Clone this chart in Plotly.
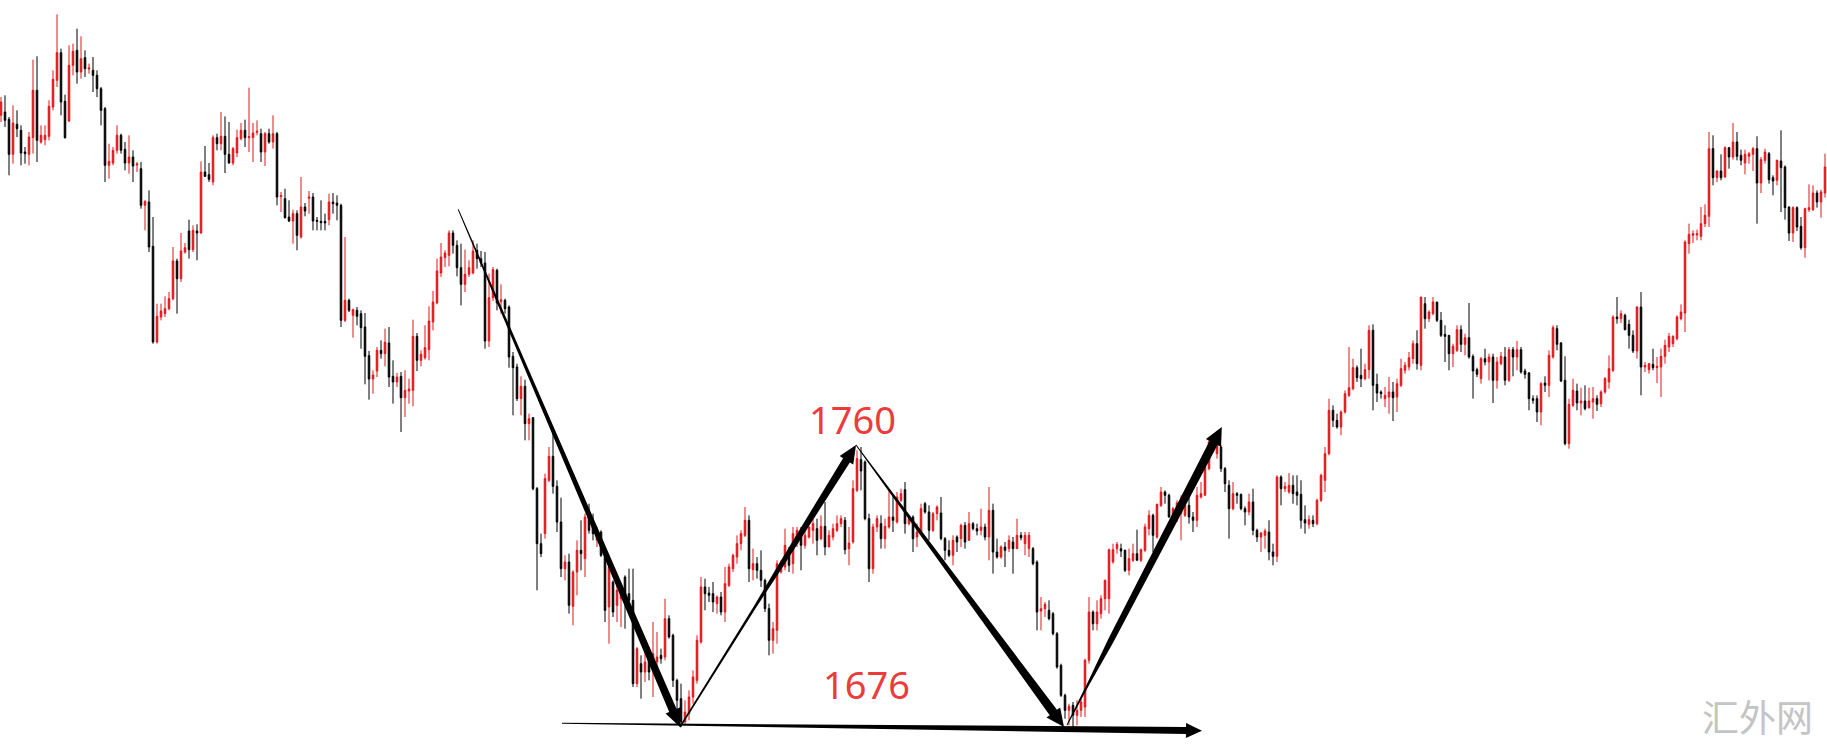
import math
import plotly.graph_objects as go

# OHLC values (price scale anchored on the 1676 / 1760 labels)
opens = [
    1859.5, 1860.5, 1858.3, 1847.8, 1856.8, 1855, 1848.5, 1847.8, 1852.8, 1867,
    1851.5, 1852.2, 1853.2, 1862, 1870, 1878.3, 1863.7, 1857.8, 1874.5, 1879,
    1872.5, 1876.8, 1873.4, 1873, 1871.5, 1867.5, 1861.5, 1844.5, 1845.2, 1849,
    1853.5, 1849.3, 1845.2, 1847, 1844.6, 1843.5, 1832.5, 1833.5, 1820.2, 1791.5,
    1799, 1800, 1801.5, 1804.5, 1815.8, 1810.5, 1818.5, 1824.8, 1819.2, 1824.8,
    1824.2, 1842.5, 1841.7, 1839.5, 1852.8, 1851, 1853.2, 1847.8, 1845.2, 1848.2,
    1852.5, 1855, 1852.8, 1852.8, 1854.4, 1854, 1848.5, 1854, 1851.5, 1854,
    1835.1, 1834.5, 1829, 1827.8, 1830, 1823, 1832, 1834.6, 1835, 1828,
    1827.7, 1827.7, 1828.2, 1833.5, 1833.2, 1832.5, 1798, 1804, 1799.5, 1801,
    1800, 1796, 1787.4, 1780.4, 1782.8, 1789, 1788, 1791.2, 1781.2, 1779.5,
    1781.2, 1774.8, 1776.8, 1777, 1793.2, 1786, 1786.8, 1789.2, 1797.5, 1803.2,
    1812.2, 1816.8, 1817.5, 1824.2, 1820.5, 1813.8, 1808.8, 1811.8, 1812.2, 1819,
    1816.5, 1815.2, 1791.8, 1804.8, 1813, 1803.6, 1804, 1802, 1787.2, 1784,
    1774.5, 1778.2, 1767, 1768.8, 1747.5, 1731, 1734, 1750, 1757.2, 1748.2,
    1737.5, 1723.5, 1725.5, 1712.2, 1722.5, 1729, 1726.5, 1739.5, 1737.5, 1732,
    1734.5, 1727, 1712, 1719.5, 1712.5, 1714.5, 1721, 1716, 1714, 1689,
    1695, 1692.5, 1698, 1693, 1695.5, 1697.5, 1697, 1708.5, 1703.5, 1690,
    1684.5, 1677.5, 1680, 1685, 1690, 1701.5, 1718, 1716.2, 1716, 1713,
    1715, 1710.5, 1718.5, 1723.5, 1727, 1731, 1733.5, 1738, 1723.2, 1725,
    1723, 1720, 1711.5, 1702, 1705, 1722.5, 1724, 1728.5, 1725, 1731,
    1733.5, 1730.5, 1733, 1735, 1735.5, 1732.5, 1736.2, 1730, 1733, 1735,
    1737, 1738, 1729.5, 1731.5, 1747, 1756.2, 1755.5, 1738.5, 1723.5, 1736,
    1737, 1732.5, 1736, 1739, 1737.5, 1744, 1747.2, 1737, 1739, 1733,
    1734.5, 1743, 1740.5, 1735, 1740, 1740.2, 1732.5, 1729, 1727.5, 1733,
    1732.5, 1736.5, 1732, 1737, 1735.5, 1735, 1736, 1733, 1741, 1728.5,
    1727, 1730, 1729.5, 1731.5, 1729.5, 1733.5, 1731, 1729.5, 1729.5, 1725.5,
    1710.8, 1711.5, 1711, 1710, 1704, 1694.5, 1685.5, 1681, 1682.5, 1679.5,
    1681, 1682, 1696, 1710.5, 1707, 1710, 1714.5, 1714.5, 1725.5, 1729.5,
    1729.5, 1729, 1723, 1726, 1728, 1726, 1729, 1735.5, 1739.5, 1733,
    1742.5, 1746.5, 1745.5, 1739, 1740.5, 1740, 1739.5, 1742.5, 1739, 1738,
    1745, 1745.5, 1753.5, 1759, 1758, 1760, 1753.5, 1748.5, 1741.5, 1746,
    1745.8, 1741.5, 1740.5, 1743.5, 1735, 1733, 1733.5, 1734.5, 1728.5, 1727.2,
    1751, 1747.5, 1746.5, 1748.5, 1746.5, 1745.8, 1738.2, 1736.8, 1738, 1737,
    1744, 1750, 1758, 1771, 1768, 1766, 1770.5, 1775.5, 1777.5, 1783.8,
    1781.5, 1780.5, 1783.2, 1795, 1778.8, 1776.5, 1774.5, 1775, 1776.5, 1775,
    1778.5, 1783, 1784, 1786.5, 1791, 1784.5, 1803, 1798.5, 1800, 1803.5,
    1798, 1793.8, 1793.5, 1788, 1789, 1795.2, 1790.8, 1792.8, 1787.2, 1783.2,
    1780.5, 1786.5, 1785.5, 1787, 1780, 1785, 1787, 1780, 1789.2, 1787,
    1789.2, 1782.8, 1782.2, 1774.5, 1774.5, 1770.5, 1779.2, 1778.5, 1787, 1795.5,
    1791.2, 1780, 1761, 1772.5, 1776.8, 1773.2, 1773.8, 1771.8, 1773.5, 1774.5,
    1773, 1776.5, 1779.5, 1783, 1799, 1798.5, 1799.5, 1796.8, 1793.5, 1788.8,
    1802, 1784, 1783.2, 1784.8, 1783.8, 1784, 1787.2, 1790, 1791, 1792.5,
    1798.5, 1800.2, 1821, 1823.5, 1823.6, 1823.2, 1827, 1829.2, 1849.5, 1840.8,
    1842.8, 1841, 1849.8, 1847, 1851.5, 1847.5, 1845.2, 1847.2, 1847.8, 1849.5,
    1839.2, 1846, 1848, 1840.8, 1840, 1845.8, 1844, 1832, 1824.2, 1831.8,
    1826.2, 1819.8, 1831.2, 1831.2, 1836.2, 1833.5, 1836.2,
]

highs = [
    1865, 1865.5, 1859, 1862.5, 1861, 1856.5, 1850, 1854.5, 1876.2, 1877.2,
    1856.5, 1856.5, 1864, 1873, 1889.8, 1879.5, 1865.7, 1880.5, 1881, 1885.5,
    1883.2, 1879, 1875, 1877, 1873, 1868, 1862, 1851, 1850, 1856.5,
    1854, 1851.5, 1853.5, 1849, 1845.5, 1845.5, 1834, 1837, 1829, 1803,
    1803, 1805.2, 1806.5, 1820, 1816.5, 1824.2, 1821.2, 1828.2, 1826.5, 1826.8,
    1845.7, 1850.3, 1845.2, 1853.5, 1854, 1860.5, 1859.2, 1857.5, 1850, 1855.2,
    1857.2, 1858.2, 1867.8, 1857.2, 1858, 1855.5, 1854.5, 1855.5, 1859.5, 1854.5,
    1836.5, 1837.5, 1834, 1831.2, 1831, 1841, 1833.2, 1836.8, 1836.2, 1829,
    1834, 1830, 1836, 1836.2, 1835.5, 1833, 1823, 1804.5, 1801.5, 1802,
    1801, 1800.2, 1788.8, 1783, 1790, 1792, 1795.5, 1796, 1786, 1782.2,
    1782.5, 1783, 1780.5, 1798.2, 1794.2, 1789, 1796.5, 1802.2, 1806.8, 1816.5,
    1821.2, 1819, 1825, 1825, 1822, 1821, 1819.2, 1816, 1822, 1821,
    1818.8, 1818.5, 1812, 1814, 1813.5, 1808.8, 1804.5, 1802.5, 1788.5, 1785,
    1781.2, 1780.2, 1770, 1769, 1748, 1734, 1752, 1760, 1764, 1750,
    1744.8, 1727.5, 1728, 1723, 1732, 1738, 1740, 1743, 1740, 1736,
    1735, 1728, 1724.5, 1720, 1719, 1719, 1721.5, 1723.5, 1723.5, 1700,
    1697.5, 1698.5, 1700, 1707.5, 1704.5, 1699.5, 1714.5, 1709.5, 1704, 1690.5,
    1689, 1684, 1687, 1693, 1703.5, 1721, 1720.5, 1718, 1719.5, 1715.5,
    1716.5, 1724, 1725, 1728, 1733.5, 1735, 1742, 1739.5, 1729.5, 1727,
    1729, 1720.5, 1713, 1707.5, 1726, 1726, 1735.5, 1730, 1736, 1736,
    1736, 1735, 1736.2, 1738.5, 1738.5, 1739.5, 1743.5, 1735, 1737, 1739.5,
    1739.5, 1739, 1736, 1750, 1759, 1760, 1756, 1740, 1737, 1739.5,
    1739.5, 1738.5, 1747, 1745.5, 1746.5, 1747.5, 1749.5, 1739.5, 1739.5, 1737,
    1743, 1743.5, 1742.5, 1740.5, 1742.5, 1745, 1733, 1732, 1733.5, 1733.5,
    1737, 1737.5, 1740.5, 1737.5, 1737, 1741.5, 1737, 1748, 1743, 1732.5,
    1730.5, 1731.5, 1733.5, 1733, 1738.5, 1734.5, 1734.5, 1734.5, 1730, 1726,
    1715, 1713.5, 1714, 1710.5, 1704.5, 1695, 1686, 1683, 1683.5, 1684,
    1685, 1696.5, 1715, 1711, 1714, 1715.5, 1720.2, 1729.5, 1731, 1731.5,
    1731, 1729.2, 1729.5, 1731, 1735.2, 1729.5, 1737, 1741, 1740, 1743,
    1748, 1747, 1746, 1742, 1744, 1745.5, 1744, 1745.5, 1740.5, 1748,
    1749.5, 1756, 1762.5, 1763.5, 1762, 1760.5, 1754, 1750, 1749.5, 1746.5,
    1746, 1742.2, 1746, 1747.5, 1735.5, 1734.5, 1735.5, 1738, 1731, 1751.5,
    1751.5, 1749.5, 1752.2, 1751.5, 1751.5, 1750, 1742.5, 1739.5, 1739.5, 1744.5,
    1752, 1760, 1774.5, 1772.5, 1770, 1771, 1777, 1790, 1786.5, 1784.5,
    1789.5, 1785, 1796.5, 1796.8, 1782, 1777, 1778, 1781, 1779.5, 1780.5,
    1786.5, 1785.5, 1788.5, 1792, 1795, 1805, 1805, 1801, 1805, 1803.5,
    1800.5, 1796.5, 1793.5, 1791, 1796.5, 1796.5, 1794, 1803.2, 1787.8, 1783.8,
    1787, 1789.5, 1788, 1788, 1787, 1788.5, 1790, 1790, 1790, 1791.8,
    1790, 1783.5, 1782.5, 1775.5, 1775.5, 1779.5, 1781.2, 1789, 1796.5, 1796.5,
    1791.5, 1787.2, 1774.5, 1780.5, 1779, 1777.8, 1778.5, 1777.8, 1778, 1775.5,
    1777, 1781, 1787.5, 1799.5, 1805, 1801, 1800, 1798.2, 1795, 1802.2,
    1806.5, 1785.5, 1785.2, 1789.5, 1787, 1789.5, 1792.2, 1794.2, 1793.5, 1799.5,
    1802.8, 1822, 1827, 1825, 1825.2, 1832, 1832.8, 1854.5, 1853.5, 1843,
    1847.8, 1850.2, 1850, 1857.2, 1854.5, 1849.2, 1849.2, 1848.5, 1850, 1853.2,
    1847, 1849.5, 1848.5, 1841.5, 1846.2, 1855, 1844.5, 1832.2, 1832.2, 1832.2,
    1829, 1831.8, 1838.8, 1838.5, 1837, 1837.2, 1848,
]

lows = [
    1857.5, 1856, 1841.5, 1845, 1853, 1844.5, 1845, 1844.5, 1848, 1845.5,
    1851, 1850.5, 1852, 1861, 1868, 1859.5, 1852.5, 1857.5, 1871.5, 1869,
    1870.5, 1871, 1872, 1866.5, 1865, 1856.5, 1839.5, 1840.5, 1844.5, 1848,
    1848, 1843, 1842, 1839.5, 1842.5, 1831.5, 1825, 1818.5, 1791, 1791,
    1798, 1799, 1801, 1804, 1800, 1809.5, 1818, 1816.5, 1818.5, 1816,
    1824, 1841, 1839.5, 1838.5, 1849, 1849, 1842.2, 1845, 1844.5, 1847,
    1852, 1850, 1848.5, 1845.5, 1853.5, 1845.5, 1844.3, 1851, 1849.5, 1832.5,
    1830.5, 1828.5, 1827.5, 1821, 1819, 1822.5, 1829.2, 1830, 1825, 1825,
    1825, 1825, 1826.5, 1830, 1828, 1796, 1797.5, 1800.5, 1792.8, 1796.5,
    1789.5, 1778.8, 1774.2, 1776, 1781, 1786.5, 1784.2, 1778, 1773, 1778,
    1764.5, 1769, 1773, 1772.2, 1782.8, 1784.2, 1786.2, 1786, 1795, 1802.8,
    1811, 1814, 1814.2, 1818, 1811.2, 1802.5, 1806.5, 1811, 1811.8, 1813.5,
    1814, 1789.5, 1790, 1803.8, 1801, 1800, 1800, 1783.8, 1769.5, 1773.8,
    1769.5, 1762, 1762, 1747, 1717, 1727, 1732.5, 1749.5, 1746, 1734.5,
    1721, 1720, 1710, 1706.5, 1715.5, 1723, 1721, 1734, 1732, 1730,
    1727, 1707.5, 1701, 1709, 1707.5, 1706, 1705.5, 1710.5, 1688, 1688,
    1684.5, 1689.5, 1690, 1685, 1693.5, 1695, 1696, 1702.5, 1688, 1680,
    1676, 1677, 1678, 1683, 1689, 1701, 1711, 1713.5, 1710.5, 1710,
    1709.5, 1707.5, 1718, 1722.5, 1725, 1729, 1733, 1719.5, 1720, 1720.5,
    1718, 1710.5, 1697.5, 1698, 1701, 1722, 1723, 1722.5, 1722, 1730,
    1723, 1729.5, 1732.5, 1731, 1727.5, 1732, 1727.5, 1730, 1732, 1734.5,
    1736, 1727.8, 1724.5, 1731, 1746.5, 1747, 1738, 1719.5, 1722, 1734.5,
    1729.5, 1729.5, 1735.5, 1734.5, 1737, 1743.5, 1734, 1736.5, 1728.5, 1730,
    1734, 1740, 1732, 1734.5, 1738, 1732, 1726, 1727, 1724.5, 1728.5,
    1730, 1729.5, 1732, 1735, 1733.5, 1733.5, 1732, 1726, 1722, 1726.5,
    1726.5, 1724, 1728.5, 1722, 1729.5, 1732, 1727.5, 1727, 1724.5, 1705,
    1705, 1709, 1708, 1703.5, 1693.5, 1685, 1678.5, 1676.5, 1675.5, 1676.5,
    1679, 1679, 1695, 1705, 1705, 1708.5, 1711, 1710, 1725, 1728,
    1727, 1722.5, 1721.5, 1725.5, 1726, 1725.5, 1728.5, 1733.5, 1728.5, 1732.5,
    1742, 1743, 1738.8, 1738, 1737.5, 1732, 1739, 1737, 1734.5, 1736,
    1744.5, 1745.5, 1753, 1758.5, 1756.5, 1752.5, 1746.5, 1732.5, 1741, 1743,
    1741, 1736.5, 1739.5, 1733.5, 1731.5, 1728.5, 1729.5, 1726, 1724.5, 1725.5,
    1742.5, 1746.5, 1746, 1743, 1742.5, 1735.5, 1734, 1735.5, 1736, 1736.5,
    1743.5, 1746.5, 1757.5, 1766, 1765.5, 1763.5, 1770, 1775, 1777, 1779.5,
    1778, 1780, 1780.5, 1771, 1773.5, 1774.5, 1772, 1770, 1767.8, 1770.5,
    1778, 1782, 1783, 1785, 1783.2, 1783, 1795.5, 1797.5, 1799.5, 1797.5,
    1793, 1785.5, 1783, 1784, 1788.5, 1788.5, 1787.5, 1786.5, 1774.5, 1781,
    1779, 1784.5, 1780, 1773.2, 1777.5, 1784.5, 1778.5, 1779.5, 1781.2, 1783,
    1782, 1780.5, 1771, 1773, 1767.5, 1766.5, 1776.5, 1775, 1786.5, 1789,
    1779.5, 1760.5, 1759.5, 1772, 1771, 1769.5, 1771, 1771.5, 1768.5, 1770.8,
    1772, 1776, 1777.5, 1782.5, 1797, 1797.2, 1795, 1789.5, 1788.2, 1786.5,
    1775.5, 1782.5, 1782, 1783, 1779.2, 1775, 1785, 1788.5, 1790, 1792,
    1798, 1794.5, 1818, 1821.2, 1822, 1822, 1826, 1826, 1838.5, 1839.5,
    1840, 1840.8, 1843.5, 1846.2, 1846, 1844.5, 1841.8, 1845, 1842.8, 1827,
    1836.2, 1845, 1839, 1835.5, 1838.5, 1830.5, 1828.2, 1821.8, 1821.5, 1824.8,
    1819.2, 1816.8, 1830.5, 1830.8, 1831.8, 1828.8, 1834.8,
]

closes = [
    1863.5, 1858, 1847.8, 1857.2, 1855.5, 1848.2, 1848, 1853, 1867, 1852,
    1853.5, 1853.5, 1862.2, 1870.3, 1878.3, 1863.5, 1852.8, 1874.5, 1878.7, 1872.5,
    1876.5, 1873.5, 1873.7, 1871.5, 1867.5, 1861, 1844.5, 1845.7, 1849, 1853.5,
    1849, 1845.2, 1847, 1844.3, 1844.9, 1832.5, 1833.7, 1820, 1791.5, 1799.2,
    1800.8, 1801.5, 1804.5, 1815.8, 1810.5, 1818.8, 1819.8, 1819.2, 1825, 1824.2,
    1842.5, 1841.2, 1840.3, 1852.8, 1851, 1853.2, 1847.8, 1845.2, 1849.5, 1852.8,
    1855, 1852.8, 1853.1, 1854.2, 1854.7, 1848.5, 1854, 1851.5, 1854, 1835,
    1835.4, 1828.8, 1827.8, 1830, 1823.5, 1832, 1830.8, 1835, 1827.8, 1827.7,
    1827.3, 1827.2, 1833.5, 1833, 1832.5, 1798, 1804, 1801, 1801.2, 1799.2,
    1795.8, 1787.2, 1780.4, 1781.6, 1789, 1788, 1791.4, 1781, 1779.5, 1781,
    1774.8, 1777, 1777.4, 1793.2, 1786, 1787.8, 1789.8, 1797.8, 1803.5, 1812.8,
    1817, 1818.2, 1824.2, 1820.5, 1813.8, 1808.8, 1811.8, 1813.8, 1818.8, 1816.5,
    1815.2, 1791.8, 1804.8, 1813.2, 1803.2, 1804.2, 1801.5, 1787, 1783.8, 1774.5,
    1778.2, 1767, 1768.5, 1747.5, 1731, 1728, 1750.5, 1757.2, 1748.2, 1737.5,
    1723.5, 1725.5, 1712.5, 1722.5, 1729, 1728, 1739, 1735, 1734, 1735,
    1727.5, 1711, 1724, 1710.5, 1717, 1717.5, 1714, 1714, 1689, 1699.5,
    1692.5, 1695.5, 1692.5, 1698, 1697, 1696.5, 1708.5, 1703, 1690, 1684,
    1677.5, 1680.5, 1685, 1691, 1702, 1718, 1716, 1715.5, 1713.5, 1715,
    1710.5, 1719, 1724, 1727.5, 1731, 1734, 1738, 1723.5, 1725, 1723,
    1720, 1711.5, 1702, 1705.5, 1725, 1725, 1730.5, 1724.5, 1734, 1735,
    1730.5, 1733.5, 1736, 1737, 1732, 1736.2, 1730, 1733.5, 1735.5, 1737,
    1738.5, 1729.2, 1731.2, 1747.5, 1756.5, 1752.8, 1738.5, 1723.5, 1736, 1738.5,
    1732.5, 1736.2, 1739, 1738, 1745, 1746, 1737, 1738.5, 1732.5, 1734.5,
    1741.5, 1740.5, 1735, 1740, 1742, 1732.5, 1729, 1727.5, 1732, 1731.5,
    1736.5, 1731.5, 1737, 1735.5, 1734.8, 1736, 1733, 1741, 1728.5, 1727,
    1730, 1729, 1732, 1729.5, 1733.5, 1732.8, 1733.5, 1733.5, 1725, 1710.5,
    1711.5, 1712.8, 1708.5, 1704, 1694, 1685.5, 1681, 1682.2, 1679.5, 1681,
    1683.5, 1696, 1710.5, 1707, 1710.5, 1714.5, 1720, 1729.2, 1729.2, 1730.8,
    1728.8, 1723, 1726.5, 1728, 1726, 1729.2, 1736, 1739.5, 1733.5, 1742.8,
    1746.5, 1745.5, 1739, 1741.5, 1743.2, 1742.5, 1742.5, 1739, 1738, 1745.5,
    1746, 1754, 1761.5, 1762.5, 1760.5, 1753.5, 1749, 1741.5, 1746, 1745.5,
    1741.5, 1740.5, 1743.5, 1735, 1733, 1734.2, 1734.8, 1728.5, 1727.2, 1751,
    1747.5, 1748.2, 1748.5, 1746, 1745.5, 1738, 1737.2, 1738.2, 1737, 1744,
    1751.5, 1758, 1771, 1768, 1766, 1770.5, 1776, 1777.8, 1783.8, 1780.8,
    1780.5, 1783.2, 1795, 1778.5, 1776.2, 1776, 1775.5, 1776.5, 1774.8, 1779,
    1783.5, 1784.5, 1786.8, 1791, 1785, 1805, 1798.5, 1800.5, 1803.5, 1798,
    1793.5, 1793.2, 1788, 1790.2, 1795.2, 1790.8, 1792.8, 1787, 1782.8, 1781.8,
    1786.5, 1785.5, 1787, 1780, 1785.5, 1787.2, 1780, 1789.2, 1787, 1789.2,
    1782.5, 1781.8, 1774.5, 1774, 1770.5, 1779, 1778.5, 1787.5, 1795.8, 1790.8,
    1779.8, 1761, 1772.8, 1777, 1773.2, 1773.8, 1771.5, 1773.8, 1774.5, 1772.8,
    1776.5, 1780.5, 1783.5, 1799, 1798.5, 1800, 1795.2, 1793.5, 1788.8, 1802,
    1784, 1784.5, 1785, 1783.8, 1784.2, 1787.2, 1790.5, 1793.2, 1793.2, 1799,
    1800.5, 1821.5, 1823.8, 1824, 1824, 1827, 1829.5, 1849.5, 1840.8, 1842.8,
    1840.8, 1849.8, 1847, 1851.5, 1847.2, 1846, 1847.8, 1848, 1849.5, 1839.2,
    1846.2, 1848.5, 1840.2, 1839.8, 1846, 1843.8, 1831.8, 1824.2, 1831.8, 1826,
    1819.8, 1831.5, 1831.8, 1836.2, 1833.5, 1836.5, 1844,
]

assert len(opens) == len(highs) == len(lows) == len(closes), \
    (len(opens), len(highs), len(lows), len(closes))

bars = list(range(len(closes)))

# annotation anchors: (bar index, price)
arrow_a = [(114.3, 1831.3), (169.75, 1676.0)]
arrow_b = [(169.75, 1676.0), (213.75, 1760.6)]
arrow_c = [(213.75, 1760.6), (265.75, 1676.0)]
arrow_d = [(266.5, 1676.6), (305.2, 1766.0)]
arrow_e = [(140.25, 1677.1), (300.25, 1674.9)]
label_top = (212.75, 1768.4, "1760")
label_low = (216.25, 1688.9, "1676")

W, H = 1827, 747
X_RANGE = [-0.25, 456.5]
Y_RANGE = [1670.0, 1894.1]
SX = W / (X_RANGE[1] - X_RANGE[0])
SY = H / (Y_RANGE[1] - Y_RANGE[0])


def taper_arrow(p0, p1, stations, head_len, head_w):
    # tapered shaft + arrow head, built in pixel space then mapped back to data
    ax, ay = p0[0] * SX, -p0[1] * SY
    bx, by = p1[0] * SX, -p1[1] * SY
    dx, dy = bx - ax, by - ay
    L = math.hypot(dx, dy)
    ux, uy = dx / L, dy / L
    nx, ny = -uy, ux
    lb = L - head_len
    left, right = [], []
    for t, w in stations:
        cx, cy = ax + ux * lb * t, ay + uy * lb * t
        left.append((cx + nx * w / 2, cy + ny * w / 2))
        right.append((cx - nx * w / 2, cy - ny * w / 2))
    hx, hy = ax + ux * lb, ay + uy * lb
    head = [(hx + nx * head_w / 2, hy + ny * head_w / 2), (bx, by),
            (hx - nx * head_w / 2, hy - ny * head_w / 2)]
    pts = left + head + right[::-1]
    path = "M " + " L ".join(f"{px / SX:.4f},{-py / SY:.4f}" for px, py in pts) + " Z"
    return dict(type="path", path=path, xref="x", yref="y",
                fillcolor="black", line=dict(width=0), layer="above")


fig = go.Figure()
fig.add_trace(go.Candlestick(
    x=bars, open=opens, high=highs, low=lows, close=closes,
    increasing=dict(line=dict(color="#e3141c", width=1), fillcolor="#e3141c"),
    decreasing=dict(line=dict(color="#000000", width=1), fillcolor="#000000"),
    whiskerwidth=0, showlegend=False, hoverinfo="skip",
))

shapes = [
    taper_arrow(*arrow_a, [(0, 1.0), (1, 8.0)], 18, 16),
    taper_arrow(*arrow_b, [(0, 1.5), (0.45, 2.5), (0.6, 5.0), (1, 8.0)], 18, 16),
    taper_arrow(*arrow_c, [(0, 1.0), (1, 9.0)], 18, 17),
    taper_arrow(*arrow_d, [(0, 1.0), (0.15, 2.5), (0.3, 6.0), (1, 9.0)], 18, 17),
    taper_arrow(*arrow_e, [(0, 1.0), (1, 7.0)], 16, 15),
]

annotations = []
for x, y, txt in (label_top, label_low):
    annotations.append(dict(x=x, y=y, xref="x", yref="y", text=txt, showarrow=False,
                            xanchor="center", yanchor="middle",
                            font=dict(family="Noto Sans", size=38, color="#eb3b3b")))
annotations.append(dict(x=0.9617, y=0.0415, xref="paper", yref="paper", text="汇外网",
                        showarrow=False, xanchor="center", yanchor="middle",
                        font=dict(family="Noto Sans CJK SC", size=37, color="#c4c4c4")))

fig.update_layout(
    width=W, height=H,
    margin=dict(l=0, r=0, t=0, b=0),
    paper_bgcolor="white", plot_bgcolor="white",
    boxgap=0.45,
    shapes=shapes, annotations=annotations,
    showlegend=False,
)
fig.update_xaxes(range=X_RANGE, visible=False, rangeslider=dict(visible=False), fixedrange=True)
fig.update_yaxes(range=Y_RANGE, visible=False, fixedrange=True)

fig.write_html("out.html", config={"displayModeBar": False},
               post_script="document.body.style.margin='0';")
